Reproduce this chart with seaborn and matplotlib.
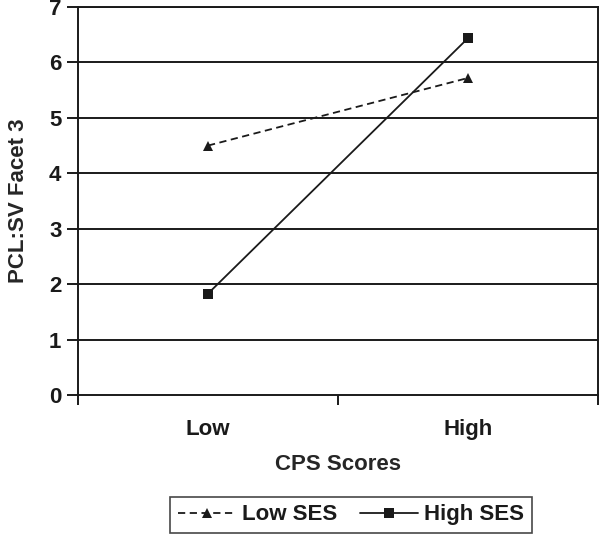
import matplotlib
import matplotlib.pyplot as plt
import pandas as pd
import seaborn as sns

matplotlib.use("Agg")

CATEGORIAS = ["Low", "High"]
LOW_SES = [4.50, 5.72]
HIGH_SES = [1.83, 6.44]
SERIES = ["Low SES", "High SES"]
Y_TICKS = [0, 1, 2, 3, 4, 5, 6, 7]

PRETO = "#1a1a1a"


def _configurar_estilo():
    sns.set_style("white")
    plt.rcParams.update({
        "font.family": ["Liberation Sans", "DejaVu Sans"],
        "font.weight": "bold",
        "axes.labelweight": "bold",
        "axes.edgecolor": PRETO,
        "axes.linewidth": 1.4,
        "text.color": PRETO,
        "xtick.color": PRETO,
        "ytick.color": PRETO,
        "xtick.bottom": True,
        "ytick.left": True,
    })


def grafico_interacao():
    df = pd.DataFrame({
        "cps": CATEGORIAS * 2,
        "valor": LOW_SES + HIGH_SES,
        "grupo": [SERIES[0]] * 2 + [SERIES[1]] * 2,
    })

    fig = plt.figure(figsize=(6.0, 5.36), dpi=100)
    fig.patch.set_facecolor("white")
    ax = fig.add_axes([0.13, 0.263, 0.867, 0.724])

    for y in Y_TICKS[1:]:
        ax.axhline(y, color=PRETO, linewidth=1.4, zorder=1)

    sns.lineplot(data=df, x="cps", y="valor", hue="grupo", style="grupo",
                 hue_order=SERIES, style_order=SERIES,
                 palette=[PRETO, PRETO],
                 dashes={SERIES[0]: (4, 2.5), SERIES[1]: ""},
                 markers={SERIES[0]: "^", SERIES[1]: "s"},
                 markersize=7, linewidth=1.3, markeredgewidth=0,
                 ax=ax, zorder=3)

    ax.set_xlim(-0.5, 1.5)
    ax.set_ylim(0, 7)
    ax.set_yticks(Y_TICKS)
    ax.set_xticks([0, 1])
    ax.set_xticklabels(CATEGORIAS)
    ax.set_xticks([-0.5, 0.5, 1.5], minor=True)
    ax.tick_params(axis="x", which="major", length=0, pad=17, labelsize=16)
    ax.tick_params(axis="x", which="minor", length=7, width=1.4, direction="out")
    ax.tick_params(axis="y", length=8, width=1.4, direction="out", pad=4, labelsize=16)
    for spine in ax.spines.values():
        spine.set_visible(True)

    ax.set_xlabel("CPS Scores", fontsize=16, fontweight="bold", labelpad=10)
    ax.set_ylabel("PCL:SV Facet 3", fontsize=16, fontweight="bold", labelpad=14)

    leg = ax.legend(loc="upper center", bbox_to_anchor=(0.525, -0.262), ncol=2,
                    frameon=True, fancybox=False, edgecolor=PRETO,
                    fontsize=16, handlelength=2.6, columnspacing=1.0,
                    handletextpad=0.3, borderpad=0.35, borderaxespad=0)
    leg.get_frame().set_linewidth(1.2)
    for txt in leg.get_texts():
        txt.set_fontweight("bold")

    fig.savefig("out.png", dpi=100, facecolor="white")
    plt.close(fig)


_configurar_estilo()
grafico_interacao()
